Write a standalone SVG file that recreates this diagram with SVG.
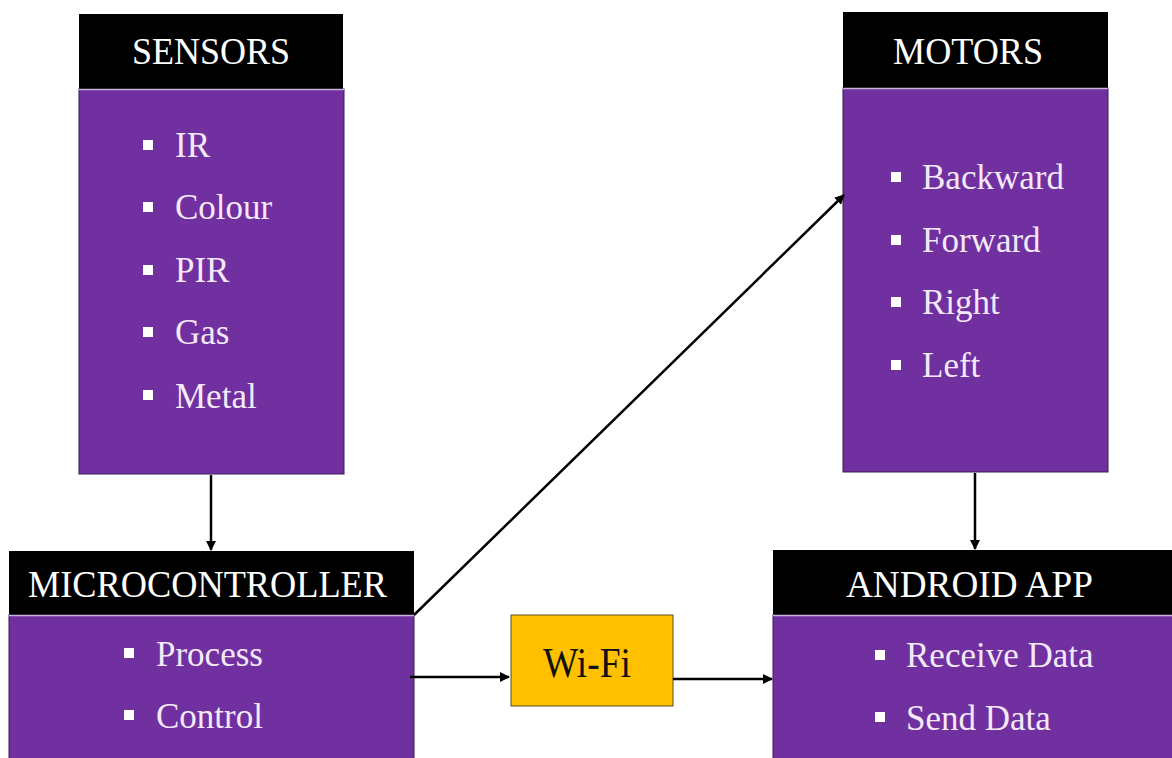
<svg xmlns="http://www.w3.org/2000/svg" width="1172" height="758" viewBox="0 0 1172 758">
  <style>
    .head { fill: #000000; }
    .body { fill: #7030A0; stroke: #3a1a55; stroke-width: 1; }
    .sep { stroke: #c9b3dc; stroke-width: 1.5; }
    .title { font-family: "Liberation Serif", "DejaVu Serif", serif; font-size: 38px; fill: #ffffff; text-anchor: middle; }
    .item { font-family: "Liberation Serif", "DejaVu Serif", serif; font-size: 35px; fill: #f4e9f9; }
    .dot { fill: #ffffff; }
    .wifi { fill: #FFC000; stroke: #5a4a2a; stroke-width: 1; }
    .wifi-text { font-family: "Liberation Serif", "DejaVu Serif", serif; font-size: 42px; fill: #111111; text-anchor: middle; }
    .link { stroke: #000000; stroke-width: 2.5; fill: none; marker-end: url(#arrow); }
  </style>
  <defs>
    <marker id="arrow" viewBox="0 0 10 10" refX="9" refY="5" markerWidth="4" markerHeight="4" orient="auto" markerUnits="strokeWidth">
      <path d="M0,0 L10,5 L0,10 z" fill="#000000"/>
    </marker>
  </defs>
  <rect width="1172" height="758" fill="#ffffff"/>

  <g id="sensors">
    <rect class="body" x="79" y="89" width="265" height="385"/>
    <rect class="head" x="79" y="14" width="264" height="75"/>
    <line class="sep" x1="79" y1="89.5" x2="344" y2="89.5"/>
    <text class="title" x="211" y="64" textLength="158" lengthAdjust="spacingAndGlyphs">SENSORS</text>
    <rect class="dot" x="143" y="140" width="10" height="10"/>
    <text class="item" x="175" y="157">IR</text>
    <rect class="dot" x="143" y="202" width="10" height="10"/>
    <text class="item" x="175" y="219">Colour</text>
    <rect class="dot" x="143" y="265" width="10" height="10"/>
    <text class="item" x="175" y="282">PIR</text>
    <rect class="dot" x="143" y="327" width="10" height="10"/>
    <text class="item" x="175" y="344">Gas</text>
    <rect class="dot" x="143" y="390" width="10" height="10"/>
    <text class="item" x="175" y="408">Metal</text>
  </g>

  <g id="motors">
    <rect class="body" x="843" y="88" width="265" height="384"/>
    <rect class="head" x="843" y="12" width="265" height="76"/>
    <line class="sep" x1="843" y1="88.5" x2="1108" y2="88.5"/>
    <text class="title" x="968" y="64" textLength="150" lengthAdjust="spacingAndGlyphs">MOTORS</text>
    <rect class="dot" x="891" y="172" width="10" height="10"/>
    <text class="item" x="922" y="189">Backward</text>
    <rect class="dot" x="891" y="235" width="10" height="10"/>
    <text class="item" x="922" y="252">Forward</text>
    <rect class="dot" x="891" y="297" width="10" height="10"/>
    <text class="item" x="922" y="314">Right</text>
    <rect class="dot" x="891" y="360" width="10" height="10"/>
    <text class="item" x="922" y="377">Left</text>
  </g>

  <g id="microcontroller">
    <rect class="body" x="9" y="615" width="405" height="150"/>
    <rect class="head" x="9" y="551" width="405" height="64"/>
    <line class="sep" x1="9" y1="615.5" x2="414" y2="615.5"/>
    <text class="title" x="207.5" y="597" textLength="359" lengthAdjust="spacingAndGlyphs">MICROCONTROLLER</text>
    <rect class="dot" x="124" y="648" width="10" height="10"/>
    <text class="item" x="156" y="666">Process</text>
    <rect class="dot" x="124" y="710" width="10" height="10"/>
    <text class="item" x="156" y="728">Control</text>
  </g>

  <g id="wifi">
    <rect class="wifi" x="511" y="615" width="162" height="91"/>
    <text class="wifi-text" x="587" y="677" textLength="88" lengthAdjust="spacingAndGlyphs">Wi-Fi</text>
  </g>

  <g id="android-app">
    <rect class="body" x="773" y="615" width="410" height="150"/>
    <rect class="head" x="773" y="550" width="410" height="65"/>
    <line class="sep" x1="773" y1="615.5" x2="1172" y2="615.5"/>
    <text class="title" x="969.5" y="597" textLength="247" lengthAdjust="spacingAndGlyphs">ANDROID APP</text>
    <rect class="dot" x="875" y="650" width="10" height="10"/>
    <text class="item" x="906" y="667">Receive Data</text>
    <rect class="dot" x="875" y="712" width="10" height="10"/>
    <text class="item" x="906" y="730">Send Data</text>
  </g>

  <g id="connectors">
    <line class="link" x1="211" y1="475" x2="211" y2="550"/>
    <line class="link" x1="975" y1="473" x2="975" y2="549"/>
    <line class="link" x1="414" y1="615" x2="844" y2="195"/>
    <line class="link" x1="410" y1="677" x2="509" y2="677"/>
    <line class="link" x1="673" y1="679" x2="772" y2="679"/>
  </g>
</svg>
